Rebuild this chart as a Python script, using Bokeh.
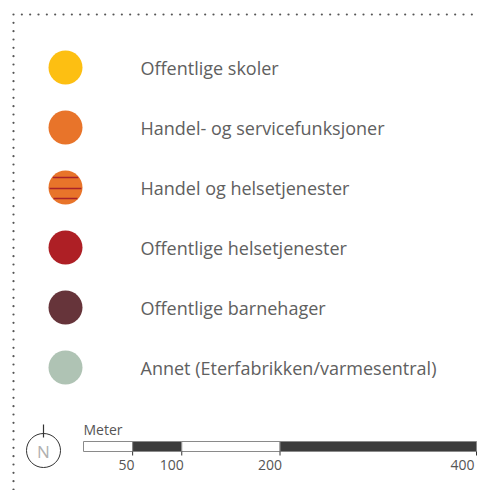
import numpy as np
from bokeh.plotting import figure
from bokeh.models import Range1d
from bokeh.embed import file_html
from bokeh.resources import INLINE
from bokeh.core.properties import value

# ---- data ----
labels = ["Offentlige skoler", "Handel- og servicefunksjoner", "Handel og helsetjenester",
          "Offentlige helsetjenester", "Offentlige barnehager", "Annet (Eterfabrikken/varmesentral)"]
colors = ["#FDBF12", "#E8742A", "#E8742A", "#AE1F25", "#66343A", "#AFC3B4"]
hatched = [False, False, True, False, False, False]
scale_ticks = [0, 50, 100, 200, 400]
scale_tick_labels = ["", "50", "100", "200", "400"]
scale_fill = ["white", "#3C3C3C", "white", "#3C3C3C"]
unit_label = "Meter"

W, H = 478, 490
p = figure(width=W, height=H, output_backend="svg", toolbar_location=None,
           x_range=Range1d(0, W), y_range=Range1d(H, 0), min_border=0)
p.axis.visible = False
p.grid.visible = False
p.outline_line_color = None
p.background_fill_color = "white"
p.border_fill_color = "white"

# dotted frame (decoration)
step = 25 / 3.0
hx = np.arange(13, W, step)
vy = np.arange(14 + step, H, step)
p.scatter(hx, [14] * len(hx), size=2.2, marker="circle", fill_color="#555555", line_color=None)
p.scatter([13] * len(vy), vy, size=2.2, marker="circle", fill_color="#555555", line_color=None)

# legend rows
cx = 65
row_y = [67 + 60 * i for i in range(len(labels))]
r = 17
p.circle([cx] * len(labels), row_y, radius=r, fill_color=colors, line_color=None)
for i, h in enumerate(hatched):
    if h:
        for dy in (-10, 1, 11):
            half = np.sqrt(r * r - dy * dy) - 1
            p.segment([cx - half], [row_y[i] + dy], [cx + half], [row_y[i] + dy],
                      line_color="#A8222A", line_width=1.5)
p.text([140] * len(labels), row_y, text=labels, text_font=value("Open Sans"),
       text_font_size="18px", text_color="#606060", text_baseline="middle", text_align="left")

# compass
ccx, ccy = 43, 450
p.circle([ccx], [ccy], radius=17, fill_color=None, line_color="#333333", line_width=1)
p.segment([ccx], [424], [ccx], [437], line_color="#333333", line_width=1.2)
p.text([ccx], [ccy + 1], text=["N"], text_font=value("Open Sans"), text_font_size="17px",
       text_color="#B0B0B0", text_align="center", text_baseline="middle")

# scale bar
x0 = 83
k = (476 - 83) / 400.0
sx = [x0 + t * k for t in scale_ticks]
top, bot = 441, 451
p.quad(left=sx[:-1], right=sx[1:], top=[top] * 4, bottom=[bot] * 4,
       fill_color=scale_fill, line_color="#8A8A8A", line_width=1)
p.segment(sx[1:], [bot] * 4, sx[1:], [bot + 4] * 4, line_color="#333333", line_width=1)
p.text([min(s + 2, W - 4) for s in sx[1:]], [464] * 4, text=scale_tick_labels[1:],
       text_font=value("Open Sans"), text_font_size="14px", text_color="#555555",
       text_align="right", text_baseline="middle")
p.text([x0], [429], text=[unit_label], text_font=value("Open Sans"), text_font_size="14px",
       text_color="#555555", text_align="left", text_baseline="middle")

open("out.html", "w").write(file_html(p, INLINE))
